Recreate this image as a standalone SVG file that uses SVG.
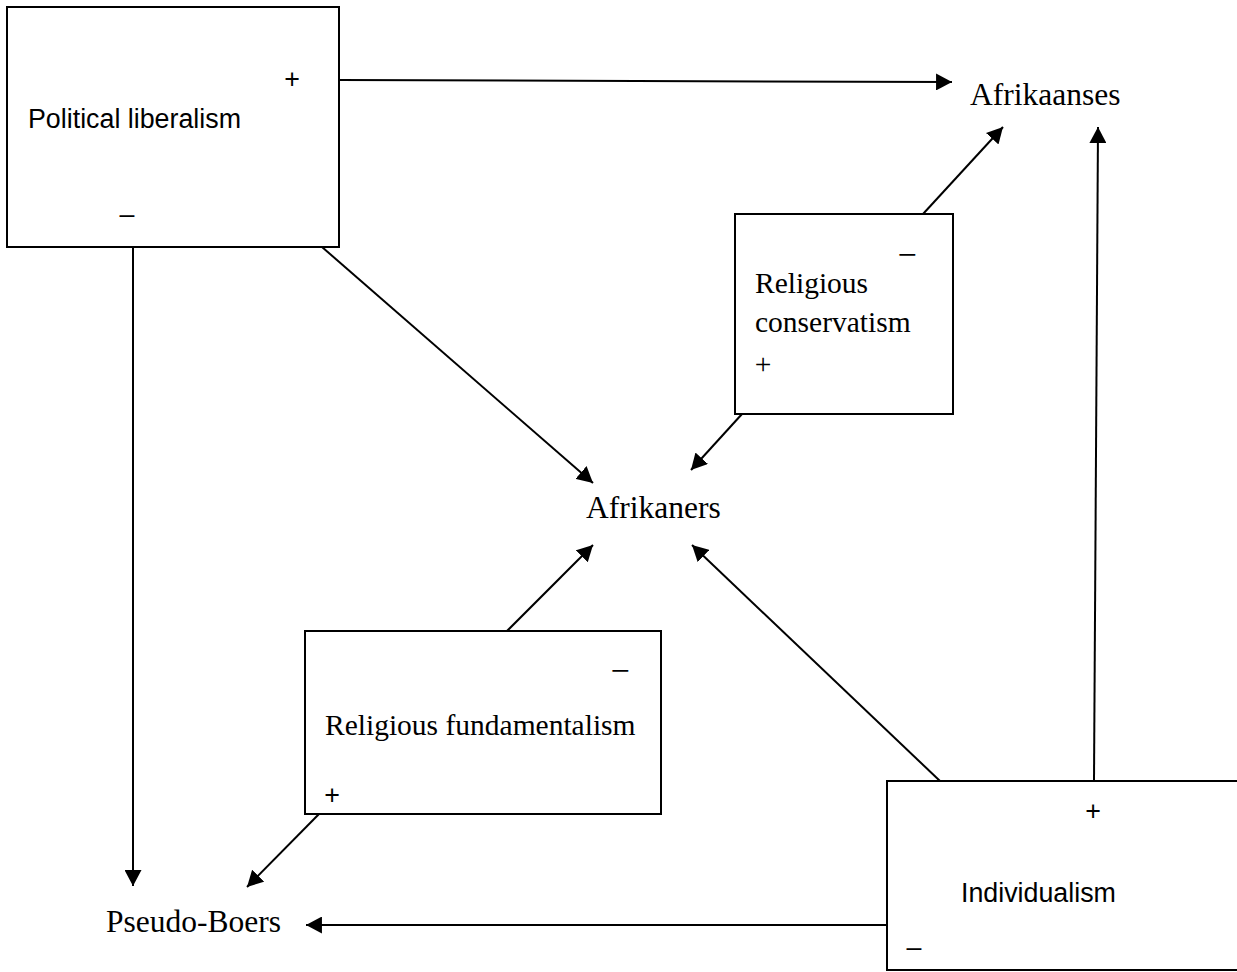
<svg xmlns="http://www.w3.org/2000/svg" width="1237" height="972" viewBox="0 0 1237 972">
<style>
.box{fill:#fff;stroke:#000;stroke-width:2}
.serif{font-family:"Liberation Serif","Times New Roman",serif;fill:#000}
.sans{font-family:"Liberation Sans",Arial,sans-serif;fill:#000}
.lbl{font-size:31.5px}
.bt{font-size:29.5px}
.st{font-size:26.8px}
.tm{font-size:34px}
.c{text-anchor:middle}
.conn line{stroke:#000;stroke-width:2;marker-end:url(#ah)}
</style>
<defs>
<marker id="ah" markerUnits="userSpaceOnUse" markerWidth="16" markerHeight="17" viewBox="0 0 15 16" refX="15" refY="8" orient="auto">
<path d="M0,0 L15,8 L0,16 Z" fill="#000"/>
</marker>
</defs>
<rect width="1237" height="972" fill="#fff"/>
<g id="political-liberalism">
<rect class="box" x="7" y="7" width="332" height="240"/>
<text class="sans st" x="28" y="128">Political liberalism</text>
<text class="sans st c" x="292" y="88">+</text>
<text class="sans st c" x="127" y="223">–</text>
</g>
<g id="afrikaanses">
<text class="serif lbl" x="970" y="105">Afrikaanses</text>
</g>
<g id="religious-conservatism">
<rect class="box" x="735" y="214" width="218" height="200"/>
<text class="serif bt" x="755" y="293">Religious</text>
<text class="serif bt" x="755" y="332">conservatism</text>
<text class="serif tm c" x="907" y="266">−</text>
<text class="serif bt c" x="763" y="374">+</text>
</g>
<g id="afrikaners">
<text class="serif lbl" x="586" y="518">Afrikaners</text>
</g>
<g id="religious-fundamentalism">
<rect class="box" x="305" y="631" width="356" height="183"/>
<text class="serif bt" x="325" y="735">Religious fundamentalism</text>
<text class="serif tm c" x="620" y="682">−</text>
<text class="sans st c" x="332" y="804">+</text>
</g>
<g id="individualism">
<rect class="box" x="887" y="781" width="360" height="189"/>
<text class="sans st" x="961" y="902">Individualism</text>
<text class="sans st c" x="1093" y="820">+</text>
<text class="sans st c" x="914" y="956">–</text>
</g>
<g id="pseudo-boers">
<text class="serif lbl" x="106" y="932">Pseudo-Boers</text>
</g>
<g id="connectors" class="conn">
<line x1="339" y1="80" x2="952" y2="82"/>
<line x1="133" y1="247" x2="133" y2="886"/>
<line x1="322" y1="247" x2="593" y2="483"/>
<line x1="923" y1="214" x2="1003" y2="127"/>
<line x1="742" y1="414" x2="691" y2="470"/>
<line x1="507" y1="631" x2="593" y2="545"/>
<line x1="319" y1="814" x2="247" y2="887"/>
<line x1="940" y1="781" x2="692" y2="545"/>
<line x1="1094" y1="781" x2="1098" y2="127"/>
<line x1="887" y1="925" x2="306" y2="925"/>
</g>
</svg>
